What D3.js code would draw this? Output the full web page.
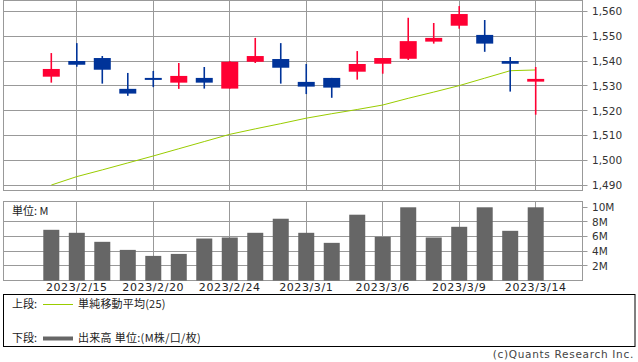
<!DOCTYPE html>
<html><head><meta charset="utf-8">
<script src="https://cdn.jsdelivr.net/npm/d3@7/dist/d3.min.js"></script>
<style>
body{margin:0;background:#fff;}
svg{display:block;}
text{font-family:"DejaVu Sans",sans-serif;}
.jp{font-family:"Noto Sans CJK JP","DejaVu Sans",sans-serif;}
</style></head>
<body>
<svg id="c" width="638" height="362"></svg>
<script>
const dates = ["2023/2/14","2023/2/15","2023/2/16","2023/2/17","2023/2/20","2023/2/21","2023/2/22","2023/2/24","2023/2/27","2023/2/28","2023/3/1","2023/3/2","2023/3/3","2023/3/6","2023/3/7","2023/3/8","2023/3/9","2023/3/10","2023/3/13","2023/3/14"];
const open  = [1533.7,1540.0,1541.2,1528.8,1533.2,1531.3,1533.2,1528.9,1539.7,1540.8,1531.6,1533.2,1535.7,1538.9,1540.9,1547.8,1554.2,1550.5,1540.0,1531.7];
const high  = [1543.2,1547.2,1542.0,1535.2,1536.0,1539.2,1537.6,1540.0,1549.3,1547.2,1538.8,1533.2,1544.0,1541.2,1557.4,1555.3,1562.1,1556.5,1541.6,1537.6];
const low   = [1531.3,1537.7,1530.9,1526.0,1529.5,1528.8,1528.9,1528.9,1539.2,1530.9,1526.7,1525.2,1532.5,1534.9,1540.4,1547.0,1553.0,1543.7,1527.7,1518.4];
const close = [1536.8,1538.5,1536.5,1526.9,1532.4,1534.0,1531.3,1539.7,1542.0,1537.3,1529.7,1529.3,1538.8,1541.2,1548.0,1549.3,1558.9,1547.0,1538.9,1532.8];
const sma25 = [1490.1,1493.5,1496.2,1499.0,1501.8,1504.7,1507.6,1510.5,1512.7,1514.8,1517.0,1518.8,1520.5,1522.3,1525.0,1527.5,1530.1,1533.1,1536.1,1536.4];
const volume = [6.93,6.52,5.29,4.19,3.37,3.64,5.74,5.88,6.52,8.44,6.52,5.15,8.99,5.97,10.0,5.88,7.34,10.0,6.79,10.0];
const dateTicks = ["2023/2/15","2023/2/20","2023/2/24","2023/3/1","2023/3/6","2023/3/9","2023/3/14"];
const priceTicks = [1490,1500,1510,1520,1530,1540,1550,1560];
const volTicks = [2,4,6,8,10];
const volGrid = [2,4,6,8];

const svg = d3.select("#c");
const L = 3.5, R = 582.5;
const gridCol = "#999999";
const upCol = "#ff0033", downCol = "#003399", maCol = "#99cc00", volCol = "#666666";
const crisp = v => Math.round(v - 0.5) + 0.5;

const x = d3.scaleLinear().domain([0, dates.length - 1]).range([51.3, 535.7]);
const idx = d => dates.indexOf(d);

// ---------- upper panel ----------
const pTop = 0.5, pBot = 190.5;
const y = d3.scaleLinear().domain([1490, 1560]).range([185.3, 11.3]);
const up = svg.append("g");
up.append("rect").attr("x", L).attr("y", pTop).attr("width", R - L).attr("height", pBot - pTop)
  .attr("fill", "#fff").attr("stroke", gridCol);
up.selectAll("line.hg").data(priceTicks).join("line")
  .attr("x1", L).attr("x2", R + 5).attr("y1", d => crisp(y(d))).attr("y2", d => crisp(y(d)))
  .attr("stroke", gridCol);
up.selectAll("line.vg").data(dateTicks).join("line")
  .attr("x1", d => crisp(x(idx(d)))).attr("x2", d => crisp(x(idx(d))))
  .attr("y1", pTop).attr("y2", pBot).attr("stroke", gridCol);
up.selectAll("text.pt").data(priceTicks).join("text")
  .attr("x", 592).attr("y", d => y(d)).attr("dy", "0.36em")
  .attr("font-size", 10.5).attr("fill", "#333").text(d => d3.format(",")(d));

// MA line
up.append("path").datum(sma25)
  .attr("d", d3.line().x((d, i) => x(i)).y(d => y(d)))
  .attr("fill", "none").attr("stroke", maCol).attr("stroke-width", 1);

// candles
const bw = 17;
const cg = up.selectAll("g.c").data(dates).join("g");
cg.append("line")
  .attr("x1", (d, i) => x(i)).attr("x2", (d, i) => x(i))
  .attr("y1", (d, i) => y(high[i])).attr("y2", (d, i) => y(low[i]))
  .attr("stroke", (d, i) => close[i] >= open[i] ? upCol : downCol).attr("stroke-width", 1.6);
cg.append("rect")
  .attr("x", (d, i) => x(i) - bw / 2).attr("width", bw)
  .attr("y", (d, i) => y(Math.max(open[i], close[i])))
  .attr("height", (d, i) => Math.max(1.5, y(Math.min(open[i], close[i])) - y(Math.max(open[i], close[i]))))
  .attr("fill", (d, i) => close[i] >= open[i] ? upCol : downCol);

// ---------- lower panel ----------
const vTop = 201.5, vBot = 280.5;
const yv = d3.scaleLinear().domain([0, 10]).range([280.6, 207.3]);
const lo = svg.append("g");
lo.append("rect").attr("x", L).attr("y", vTop).attr("width", R - L).attr("height", vBot - vTop)
  .attr("fill", "#fff").attr("stroke", gridCol);
lo.selectAll("line.hg").data(volGrid).join("line")
  .attr("x1", L).attr("x2", R).attr("y1", d => crisp(yv(d))).attr("y2", d => crisp(yv(d)))
  .attr("stroke", gridCol);
lo.selectAll("line.tk").data(volTicks).join("line")
  .attr("x1", R).attr("x2", R + 5).attr("y1", d => crisp(yv(d))).attr("y2", d => crisp(yv(d)))
  .attr("stroke", gridCol);
lo.selectAll("line.vg").data(dateTicks).join("line")
  .attr("x1", d => crisp(x(idx(d)))).attr("x2", d => crisp(x(idx(d))))
  .attr("y1", vTop).attr("y2", vBot).attr("stroke", gridCol);
lo.selectAll("rect.v").data(volume).join("rect")
  .attr("x", (d, i) => x(i) - 8).attr("width", 16)
  .attr("y", d => yv(d)).attr("height", d => yv(0) - yv(d))
  .attr("fill", volCol);
lo.selectAll("text.vt").data(volTicks).join("text")
  .attr("x", 592).attr("y", d => yv(d)).attr("dy", "0.36em")
  .attr("font-size", 10.5).attr("fill", "#333").text(d => d + "M");
lo.append("text").attr("class", "jp").attr("x", 12).attr("y", 211).attr("dy", "0.36em")
  .attr("font-size", 11).attr("fill", "#222").text("単位: M");

// x labels
svg.selectAll("text.xl").data(dateTicks).join("text")
  .attr("x", d => x(idx(d))).attr("y", 287).attr("dy", "0.36em")
  .attr("text-anchor", "middle").attr("font-size", 11).attr("letter-spacing", 0.6)
  .attr("fill", "#222").text(d => d);

// ---------- legend ----------
const lg = svg.append("g");
lg.append("rect").attr("x", 3.5).attr("y", 294.5).attr("width", 631.5).attr("height", 52)
  .attr("fill", "none").attr("stroke", "#000");
lg.append("text").attr("class", "jp").attr("x", 12).attr("y", 304).attr("dy", "0.36em")
  .attr("font-size", 11).attr("fill", "#222").text("上段:");
lg.append("line").attr("x1", 43).attr("x2", 73).attr("y1", 304.5).attr("y2", 304.5)
  .attr("stroke", maCol).attr("stroke-width", 1);
lg.append("text").attr("class", "jp").attr("x", 78).attr("y", 304).attr("dy", "0.36em")
  .attr("font-size", 11).attr("letter-spacing", 0.2).attr("fill", "#222").text("単純移動平均(25)");
lg.append("text").attr("class", "jp").attr("x", 12).attr("y", 338).attr("dy", "0.36em")
  .attr("font-size", 11).attr("fill", "#222").text("下段:");
lg.append("line").attr("x1", 43).attr("x2", 73).attr("y1", 338.5).attr("y2", 338.5)
  .attr("stroke", volCol).attr("stroke-width", 4);
lg.append("text").attr("class", "jp").attr("x", 78).attr("y", 338).attr("dy", "0.36em")
  .attr("font-size", 11).attr("letter-spacing", 0.3).attr("fill", "#222").text("出来高 単位:(M株/口/枚)");

svg.append("text").attr("x", 634).attr("y", 355).attr("dy", "0.3em").attr("text-anchor", "end")
  .attr("font-size", 10.5).attr("letter-spacing", 0.7).attr("fill", "#444").text("(c)Quants Research Inc.");
</script>
</body></html>
